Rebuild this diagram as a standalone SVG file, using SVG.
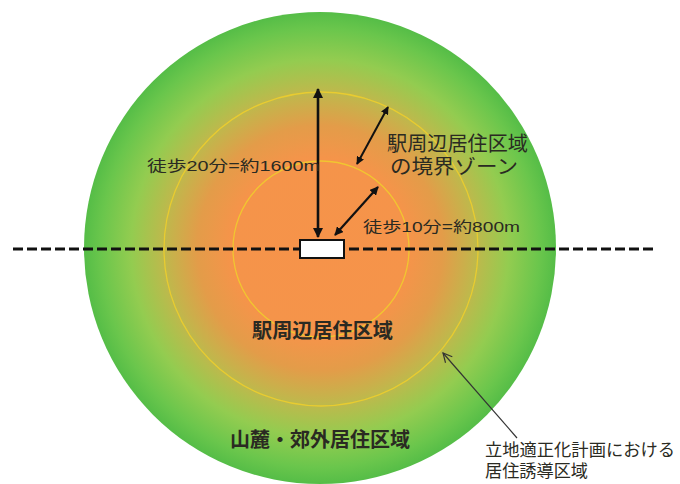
<svg xmlns="http://www.w3.org/2000/svg" width="680" height="484" viewBox="0 0 680 484">
<style>
.t{font-family:"Liberation Sans","Noto Sans CJK JP",sans-serif;fill:#2a2a22}
.ring{fill:none;stroke:#f0cf2c;stroke-width:1.3;stroke-opacity:0.85}
.arr{stroke:#111;fill:none}
</style>
<defs>
<radialGradient id="g" cx="320" cy="248" r="236" gradientUnits="userSpaceOnUse">
<stop offset="0" stop-color="#f6934a"/>
<stop offset="0.38" stop-color="#f5944a"/>
<stop offset="0.52" stop-color="#e39c49"/>
<stop offset="0.66" stop-color="#bfb84c"/>
<stop offset="0.8" stop-color="#93cc50"/>
<stop offset="0.93" stop-color="#6ac64c"/>
<stop offset="1" stop-color="#55bd47"/>
</radialGradient>
<marker id="ah" viewBox="0 0 10 10" refX="9" refY="5" markerWidth="4" markerHeight="4" orient="auto-start-reverse" markerUnits="strokeWidth">
<path d="M0,0 L10,5 L0,10 Z" fill="#111"/>
</marker>
<marker id="oh" viewBox="0 0 12 12" refX="11" refY="6" markerWidth="9" markerHeight="9" orient="auto" markerUnits="strokeWidth">
<path d="M1,1 L11,6 L1,11" fill="none" stroke="#333" stroke-width="1.3"/>
</marker>
</defs>
<g id="zone-outer">
<circle cx="320" cy="248" r="236" fill="url(#g)"/>
</g>
<g id="rings">
<circle class="ring" cx="321" cy="249" r="157"/>
<circle class="ring" cx="321" cy="249" r="88"/>
</g>
<g id="connectors">
<line x1="13" y1="249" x2="656" y2="249" stroke="#111" stroke-width="3" stroke-dasharray="10 4"/>
<line class="arr" x1="318" y1="89" x2="318" y2="237" stroke-width="2.6" marker-start="url(#ah)" marker-end="url(#ah)"/>
<line class="arr" x1="357" y1="164" x2="388" y2="107" stroke-width="2" marker-start="url(#ah)" marker-end="url(#ah)"/>
<line class="arr" x1="335" y1="235" x2="378" y2="187" stroke-width="2.2" marker-start="url(#ah)" marker-end="url(#ah)"/>
<line x1="517" y1="438" x2="443" y2="353" stroke="#333" stroke-width="1.2" marker-end="url(#oh)"/>
</g>
<g id="station">
<rect x="300" y="240" width="44" height="18" fill="#fff" stroke="#111" stroke-width="2"/>
</g>
<g id="label-20min">
<text class="t" x="147" y="171" font-size="15" textLength="173" lengthAdjust="spacingAndGlyphs">徒歩20分=約1600m</text>
</g>
<g id="label-10min">
<text class="t" x="363" y="232" font-size="15" textLength="157" lengthAdjust="spacingAndGlyphs">徒歩10分=約800m</text>
</g>
<g id="label-boundary">
<text class="t" x="387" y="151" font-size="20" textLength="141" lengthAdjust="spacingAndGlyphs">駅周辺居住区域</text>
<text class="t" x="390" y="174" font-size="20" textLength="128" lengthAdjust="spacingAndGlyphs">の境界ゾーン</text>
</g>
<g id="label-station-area">
<text class="t" x="252" y="338" font-size="20" font-weight="bold" textLength="141" lengthAdjust="spacingAndGlyphs">駅周辺居住区域</text>
</g>
<g id="label-suburb">
<text class="t" x="230" y="447" font-size="20" font-weight="bold" fill="#1e2a14" textLength="180" lengthAdjust="spacingAndGlyphs">山麓・郊外居住区域</text>
</g>
<g id="label-annotation">
<text class="t" x="485" y="456" font-size="17" fill="#333" textLength="190" lengthAdjust="spacingAndGlyphs">立地適正化計画における</text>
<text class="t" x="485" y="477" font-size="17" fill="#333" textLength="103" lengthAdjust="spacingAndGlyphs">居住誘導区域</text>
</g>
</svg>
